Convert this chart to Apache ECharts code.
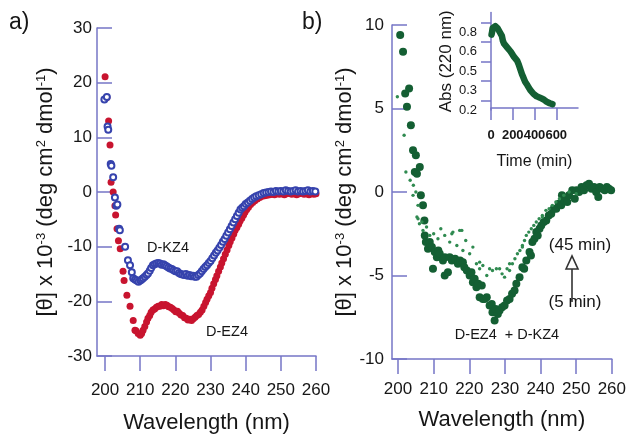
<!DOCTYPE html>
<html>
<head>
<meta charset="utf-8">
<script src="https://cdn.jsdelivr.net/npm/echarts@6/dist/echarts.min.js"></script>
<style>
  html, body { margin: 0; padding: 0; background: #ffffff; }
  #chart { width: 629px; height: 439px; }
</style>
</head>
<body>
<div id="chart"></div>
<script>
// ---- Panel a: CD spectra of D-EZ4 (filled) and D-KZ4 (open), [wavelength nm, theta x 1e-3]
const ez4Spectrum = [
  [200.0,21.1],[200.5,17.3],[201.0,13.0],[201.4,8.6],[201.7,1.8],[202.3,0.0],[202.8,-2.5],[203.0,-4.2],
  [203.4,-6.7],[203.8,-8.9],[204.3,-10.4],[205.1,-14.5],[205.4,-16.2],[206.2,-18.9],[207.1,-20.9],
  [208.0,-23.5],[208.5,-25.3],[208.8,-25.4],[209.4,-25.9],[210.0,-26.2],[210.4,-25.9],[210.8,-25.3],
  [211.3,-24.6],[211.8,-23.8],[212.2,-23.1],[212.7,-22.6],[213.1,-22.0],[213.6,-21.6],[214.1,-21.4],
  [214.6,-21.1],[215.1,-20.9],[215.6,-20.9],[216.1,-20.6],[216.6,-20.8],[217.1,-20.6],[217.6,-20.7],
  [218.1,-21.0],[218.6,-21.1],[219.1,-21.3],[219.6,-21.6],[220.1,-21.9],[220.6,-21.8],[221.1,-22.2],
  [221.6,-22.5],[222.1,-22.6],[222.6,-23.0],[223.1,-23.1],[223.6,-23.4],[224.1,-23.3],[224.6,-23.5],
  [225.1,-23.2],[225.6,-22.9],[226.1,-22.6],[226.6,-22.4],[227.1,-22.0],[227.6,-21.6],[228.1,-20.9],
  [228.6,-20.2],[229.0,-19.6],[229.5,-19.0],[230.0,-18.4],[230.4,-17.6],[230.9,-16.8],[231.4,-16.0],
  [231.8,-15.3],[232.3,-14.5],[232.8,-13.7],[233.2,-13.0],[233.7,-12.2],[234.2,-11.4],[234.7,-10.6],
  [235.2,-9.8],[235.6,-9.1],[236.1,-8.4],[236.6,-7.7],[237.0,-7.0],[237.5,-6.5],[238.0,-5.9],
  [238.4,-5.3],[238.9,-4.8],[239.4,-4.2],[239.8,-3.7],[240.3,-3.2],[240.8,-2.8],[241.4,-2.3],
  [242.0,-1.9],[242.6,-1.6],[243.3,-1.3],[244.0,-1.0],[244.7,-0.8],[245.4,-0.7],[246.1,-0.6],
  [246.8,-0.5],[247.5,-0.4],[248.2,-0.5],[248.9,-0.3],[249.6,-0.4],[250.3,-0.3],[251.0,-0.5],
  [251.7,-0.3],[252.4,-0.2],[253.1,-0.4],[253.8,-0.3],[254.5,-0.5],[255.2,-0.3],[255.9,-0.2],
  [256.6,-0.4],[257.3,-0.3],[258.0,-0.5],[258.7,-0.3],[259.4,-0.4],[260.0,-0.3]
];
const kz4Spectrum = [
  [199.8,16.9],[200.5,17.4],[200.7,12.0],[200.9,11.4],[201.6,5.1],[201.8,4.8],[202.3,2.7],
  [202.8,-1.0],[203.2,-2.5],[203.5,-2.3],[204.0,-6.7],[204.2,-7.0],[205.7,-10.0],[206.5,-12.5],
  [207.1,-13.4],[207.6,-14.7],[208.0,-15.8],[208.5,-16.0],[209.0,-16.2],[209.5,-16.4],[210.0,-16.2],
  [210.4,-16.0],[210.8,-15.8],[211.3,-15.5],[211.8,-15.2],[212.2,-14.9],[212.7,-14.4],[213.1,-13.9],
  [213.6,-13.4],[214.1,-13.2],[214.6,-13.1],[215.1,-13.0],[215.6,-13.1],[216.1,-13.3],[216.6,-13.2],
  [217.0,-13.4],[217.5,-13.6],[218.0,-13.8],[218.5,-14.0],[219.0,-14.1],[219.5,-14.3],[220.0,-14.5],
  [220.5,-14.5],[221.0,-14.8],[221.5,-15.0],[222.0,-15.1],[222.5,-15.2],[223.0,-15.0],[223.5,-15.3],
  [224.0,-15.2],[224.5,-15.4],[225.0,-15.3],[225.5,-15.5],[226.0,-15.5],[226.5,-15.2],[227.0,-14.9],
  [227.5,-14.5],[228.0,-14.1],[228.5,-13.7],[229.0,-13.4],[229.5,-13.0],[230.0,-12.6],[230.5,-12.1],
  [231.0,-11.6],[231.5,-11.1],[232.0,-10.7],[232.5,-10.2],[233.0,-9.7],[233.5,-9.1],[234.0,-8.6],
  [234.5,-8.0],[235.0,-7.4],[235.5,-6.8],[236.0,-6.2],[236.5,-5.6],[237.0,-5.0],[237.5,-4.4],
  [238.0,-3.8],[238.5,-3.2],[239.0,-2.9],[239.5,-2.6],[240.0,-2.2],[240.6,-1.9],[241.2,-1.6],
  [241.8,-1.3],[242.4,-1.0],[243.0,-0.8],[243.7,-0.6],[244.4,-0.4],[245.1,-0.2],[245.8,-0.1],
  [246.5,0.0],[247.2,0.1],[247.9,0.0],[248.6,0.2],[249.3,0.1],[250.0,0.2],[250.7,0.1],[251.4,0.3],
  [252.1,0.2],[252.8,0.1],[253.5,0.2],[254.2,0.3],[254.9,0.1],[255.6,0.2],[256.3,0.1],[257.0,0.2],
  [257.7,0.3],[258.4,0.1],[259.1,0.2],[259.8,0.1]
];

// ---- Panel b: mixture D-EZ4 + D-KZ4 after 5 min (large) and 45 min (small)
const mix5min = [
  [200.6,9.4],[201.4,8.4],[202.0,5.9],[202.5,5.1],[203.1,6.2],[203.6,4.0],[204.2,2.5],[204.7,1.2],
  [205.0,2.2],[205.3,1.1],[206.1,1.5],[206.4,-0.2],[207.0,-0.8],[207.4,-1.7],[207.5,-2.6],[207.8,-3.0],
  [208.4,-3.4],[208.9,-3.0],[209.5,-3.3],[209.8,-4.6],[210.3,-3.6],[210.9,-3.9],[211.3,-3.5],
  [211.7,-3.7],[212.6,-4.1],[213.1,-5.0],[213.1,-3.9],[214.0,-4.8],[214.5,-3.9],[215.1,-4.1],
  [216.0,-4.0],[216.8,-4.3],[217.4,-4.1],[218.2,-4.2],[218.6,-4.5],[219.3,-4.7],[220.1,-5.0],
  [220.6,-4.8],[221.0,-5.4],[221.5,-5.2],[222.0,-5.7],[222.5,-5.5],[222.9,-6.3],[223.5,-5.6],
  [223.8,-6.4],[224.3,-6.4],[224.9,-6.3],[225.7,-6.8],[226.3,-6.7],[226.5,-7.2],[227.1,-7.7],
  [227.4,-7.0],[228.0,-7.3],[228.5,-7.1],[229.2,-6.9],[229.9,-6.8],[230.6,-6.5],[231.3,-6.4],
  [232.0,-6.1],[232.7,-5.9],[233.2,-5.5],[234.1,-5.1],[234.9,-4.5],[235.4,-4.6],[236.0,-4.1],
  [236.9,-3.6],[237.3,-3.8],[237.7,-3.0],[238.3,-2.8],[238.8,-2.4],[239.2,-2.6],[239.7,-2.2],
  [240.2,-2.0],[240.9,-1.8],[241.6,-1.7],[242.3,-1.4],[243.0,-1.3],[243.7,-1.0],[244.4,-1.0],
  [245.1,-0.7],[245.8,-0.8],[246.0,-0.2],[246.6,-0.5],[247.5,-0.6],[248.0,-0.2],[248.9,0.1],
  [249.6,-0.4],[250.1,0.1],[250.8,0.0],[251.5,0.3],[252.2,0.1],[252.9,0.4],[253.6,0.5],[254.3,0.2],
  [255.0,0.3],[255.6,0.0],[256.2,-0.3],[256.6,0.3],[257.3,0.2],[258.0,0.1],[258.6,0.3],[259.2,0.2],
  [259.8,0.1]
];
const mix45min = [
  [199.8,5.7],[201.7,3.4],[202.2,1.2],[203.4,0.7],[204.2,-0.2],[204.3,0.4],[205.0,0.0],[205.3,-1.5],
  [205.6,-0.8],[205.6,-1.6],[206.0,-1.9],[206.7,-1.8],[207.0,-2.3],[208.0,-2.1],[208.9,-2.6],
  [210.0,-2.5],[211.2,-2.8],[212.0,-2.2],[213.1,-2.6],[214.5,-3.0],[215.1,-2.5],[215.4,-2.4],
  [216.5,-3.2],[217.3,-2.3],[217.9,-2.3],[218.2,-3.5],[219.0,-2.9],[220.1,-3.7],[221.0,-3.3],
  [222.0,-4.3],[222.9,-4.2],[222.9,-4.6],[223.8,-4.4],[224.9,-5.0],[225.7,-4.6],[226.5,-4.7],
  [227.6,-4.6],[228.5,-4.6],[229.2,-4.9],[229.9,-5.1],[230.6,-4.6],[231.3,-4.7],[231.3,-4.3],
  [232.1,-4.3],[232.8,-4.0],[233.5,-3.7],[234.2,-3.5],[234.9,-3.3],[234.9,-3.2],[235.5,-2.9],
  [236.0,-2.6],[236.7,-2.4],[237.4,-2.2],[238.1,-2.0],[238.8,-1.8],[239.6,-1.6],[240.5,-1.4],
  [240.5,-1.5],[241.5,-1.1],[242.4,-1.0],[243.3,-0.8],[244.3,-0.6],[245.3,-0.4],[246.5,-0.2],
  [248.0,0.0],[250.0,-0.1]
];

// ---- Inset: absorbance at 220 nm vs time, [min, Abs]
const absKinetics = [
  [5,0.78],[10,0.80],[15,0.83],[20,0.84],[30,0.845],[40,0.845],[50,0.84],[60,0.83],[70,0.82],
  [80,0.80],[90,0.79],[100,0.77],[110,0.73],[120,0.71],[135,0.70],[150,0.68],[165,0.665],
  [180,0.65],[195,0.63],[210,0.61],[225,0.595],[240,0.58],[255,0.55],[265,0.525],[275,0.50],
  [285,0.475],[295,0.455],[305,0.435],[315,0.415],[325,0.40],[335,0.39],[345,0.375],[360,0.355],
  [375,0.34],[390,0.325],[405,0.315],[420,0.305],[435,0.30],[450,0.295],[465,0.29],[480,0.283],
  [495,0.275],[510,0.265],[525,0.258],[540,0.252],[555,0.247],[565,0.245]
];

// ---- Tick values and tick labels
const wavelengthTicks = [200, 210, 220, 230, 240, 250, 260];
const timeTicks = [0, 200, 400, 600];
const absLabelValues = [0.2, 0.35, 0.5, 0.65, 0.8];
const absLabelTexts = ['0.2', '0.3', '0.5', '0.6', '0.8'];
const absTickValues = [0.275, 0.425, 0.575, 0.725, 0.875];

const FONT = 'Liberation Sans, Arial, Helvetica, sans-serif';
const AXIS = '#7676c6';
const TXT = '#161616';
const RED = '#c8142f';
const BLUE = '#3643ad';
const GREEN = '#145f33';
const GREEN_LIGHT = '#2f8a50';

const thetaName = '[θ] x 10{sup|-3} (deg cm{sup|2} dmol{sup|-1})';
const nameStyle = {
  fontSize: 22, color: TXT, fontFamily: FONT,
  rich: { sup: { fontSize: 13, color: TXT, fontFamily: FONT, verticalAlign: 'top', lineHeight: 14 } }
};
const axisLineStyle = { show: true, onZero: false, lineStyle: { color: AXIS, width: 1.5 } };

function wavelengthAxis(gridIndex, min, labelMargin, nameGap) {
  return {
    type: 'value', gridIndex, min, max: 260,
    axisLine: axisLineStyle,
    axisTick: { show: true, inside: false, length: 15, customValues: wavelengthTicks, lineStyle: { color: AXIS, width: 1.5 } },
    axisLabel: { customValues: wavelengthTicks, fontSize: 17, color: TXT, fontFamily: FONT, margin: labelMargin },
    splitLine: { show: false },
    name: 'Wavelength (nm)', nameLocation: 'middle', nameGap,
    nameTextStyle: { fontSize: 22, color: TXT, fontFamily: FONT }
  };
}
function thetaAxis(gridIndex, min, max, interval, labelMargin, nameGap) {
  return {
    type: 'value', gridIndex, min, max, interval,
    axisLine: axisLineStyle,
    axisTick: { show: true, inside: true, length: 15, lineStyle: { color: AXIS, width: 1.5 } },
    axisLabel: { fontSize: 17, color: TXT, fontFamily: FONT, margin: labelMargin },
    splitLine: { show: false },
    name: thetaName, nameLocation: 'middle', nameRotate: 90, nameGap,
    nameTextStyle: nameStyle
  };
}

const chart = echarts.init(document.getElementById('chart'), null, { renderer: 'canvas' });

const option = {
  animation: false,
  backgroundColor: '#ffffff',
  grid: [
    { left: 97, top: 28, width: 219, height: 329 },
    { left: 392, top: 25, width: 221, height: 334 },
    { left: 491, top: 12.5, width: 87, height: 97.5 }
  ],
  xAxis: [
    wavelengthAxis(0, 197.7, 26, 56),
    wavelengthAxis(1, 198.3, 22, 50),
    {
      type: 'value', gridIndex: 2, min: 0, max: 800, offset: -2,
      axisLine: axisLineStyle,
      axisTick: { show: true, length: 12, customValues: timeTicks, lineStyle: { color: AXIS, width: 1.5 } },
      axisLabel: { customValues: timeTicks, fontSize: 13, fontWeight: 'bold', color: TXT, fontFamily: FONT, margin: 21 },
      splitLine: { show: false },
      name: 'Time (min)', nameLocation: 'middle', nameGap: 46,
      nameTextStyle: { fontSize: 16, color: TXT, fontFamily: FONT }
    }
  ],
  yAxis: [
    thetaAxis(0, -30, 30, 10, 5, 40),
    thetaAxis(1, -10, 10, 5, 8, 33),
    {
      type: 'value', gridIndex: 2, min: 0.2, max: 0.95,
      axisLine: axisLineStyle,
      axisTick: { show: true, length: 10, customValues: absTickValues, lineStyle: { color: AXIS, width: 1.5 } },
      axisLabel: {
        customValues: absLabelValues, fontSize: 13, color: TXT, fontFamily: FONT, margin: 14,
        formatter: function (v) {
          for (let i = 0; i < absLabelValues.length; i++) {
            if (Math.abs(absLabelValues[i] - v) < 1e-6) return absLabelTexts[i];
          }
          return '';
        }
      },
      splitLine: { show: false },
      name: 'Abs (220 nm)', nameLocation: 'middle', nameRotate: 90, nameGap: 33,
      nameTextStyle: { fontSize: 17, color: TXT, fontFamily: FONT }
    }
  ],
  series: [
    { name: 'D-EZ4', type: 'scatter', xAxisIndex: 0, yAxisIndex: 0, data: ez4Spectrum,
      symbol: 'circle', symbolSize: 7, itemStyle: { color: RED, opacity: 1 } },
    { name: 'D-KZ4', type: 'scatter', xAxisIndex: 0, yAxisIndex: 0, data: kz4Spectrum,
      symbol: 'emptyCircle', symbolSize: 6, itemStyle: { color: BLUE, borderWidth: 1.4, opacity: 1 } },
    { name: '5 min', type: 'scatter', xAxisIndex: 1, yAxisIndex: 1, data: mix5min,
      symbol: 'circle', symbolSize: 8, itemStyle: { color: GREEN, opacity: 1 } },
    { name: '45 min', type: 'scatter', xAxisIndex: 1, yAxisIndex: 1, data: mix45min,
      symbol: 'circle', symbolSize: 3.4, itemStyle: { color: GREEN_LIGHT, opacity: 1 } },
    { name: 'Abs 220', type: 'line', xAxisIndex: 2, yAxisIndex: 2, data: absKinetics,
      showSymbol: false, smooth: false,
      lineStyle: { color: GREEN, width: 6.5, cap: 'round', join: 'round' } }
  ],
  graphic: [
    { type: 'text', left: 9, top: 11, style: { text: 'a)', fontSize: 23, fill: TXT, fontFamily: FONT } },
    { type: 'text', left: 302, top: 11, style: { text: 'b)', fontSize: 23, fill: TXT, fontFamily: FONT } },
    { type: 'text', x: 168, y: 248, style: { text: 'D-KZ4', fontSize: 14.5, fill: TXT, fontFamily: FONT, align: 'center', verticalAlign: 'middle' } },
    { type: 'text', x: 227, y: 332, style: { text: 'D-EZ4', fontSize: 14.5, fill: TXT, fontFamily: FONT, align: 'center', verticalAlign: 'middle' } },
    { type: 'text', x: 507, y: 335, style: { text: 'D-EZ4  + D-KZ4', fontSize: 14.5, fill: TXT, fontFamily: FONT, align: 'center', verticalAlign: 'middle' } },
    { type: 'text', x: 580, y: 245, style: { text: '(45 min)', fontSize: 17, fill: TXT, fontFamily: FONT, align: 'center', verticalAlign: 'middle' } },
    { type: 'text', x: 575, y: 302, style: { text: '(5 min)', fontSize: 17, fill: TXT, fontFamily: FONT, align: 'center', verticalAlign: 'middle' } },
    { type: 'line', shape: { x1: 572, y1: 302, x2: 572, y2: 268 }, style: { stroke: '#333333', lineWidth: 1.6 } },
    { type: 'polygon', shape: { points: [[566, 269], [572, 256], [578, 269]] }, style: { fill: '#ffffff', stroke: '#333333', lineWidth: 1.6 } }
  ]
};

chart.setOption(option);
</script>
</body>
</html>
